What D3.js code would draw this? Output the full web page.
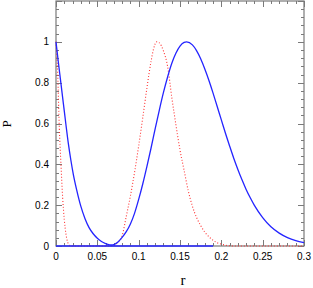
<!DOCTYPE html>
<html><head><meta charset="utf-8">
<script src="https://cdn.jsdelivr.net/npm/d3@7"></script>
<style>body{margin:0;background:#fff}svg{display:block}</style>
</head><body>
<script>
// Data (smoothed by eye)
const blueR = [0,0.003,0.006,0.009,0.012,0.015,0.018,0.021,0.025,0.03,0.035,0.04,0.045,0.05,0.055,0.06,0.065,0.068,0.07,0.075,0.08,0.085,0.09,0.095,0.1,0.105,0.11,0.115,0.12,0.125,0.13,0.135,0.14,0.145,0.15,0.155,0.158,0.165,0.17,0.175,0.18,0.185,0.19,0.195,0.2,0.205,0.21,0.215,0.22,0.225,0.23,0.235,0.24,0.25,0.26,0.27,0.28,0.29,0.3];
const blueP = [1,0.895,0.795,0.695,0.595,0.50,0.42,0.35,0.275,0.195,0.135,0.09,0.06,0.038,0.022,0.012,0.006,0.005,0.007,0.02,0.042,0.07,0.108,0.16,0.228,0.305,0.39,0.48,0.575,0.666,0.752,0.828,0.894,0.944,0.979,0.997,1,0.985,0.957,0.917,0.867,0.811,0.749,0.683,0.618,0.552,0.49,0.43,0.375,0.324,0.277,0.236,0.199,0.139,0.094,0.063,0.041,0.026,0.016];
const redR = [0,0.002,0.004,0.006,0.008,0.010,0.012,0.014,0.016,0.018,0.04,0.065,0.07,0.075,0.08,0.085,0.09,0.095,0.1,0.105,0.11,0.115,0.118,0.1218,0.125,0.13,0.135,0.14,0.145,0.15,0.155,0.16,0.165,0.17,0.175,0.18,0.185,0.19,0.195,0.2,0.205,0.21,0.22,0.26,0.3];
const redP = [1,0.85,0.58,0.40,0.24,0.13,0.06,0.02,0.004,0,0,0,0.004,0.018,0.05,0.145,0.245,0.36,0.49,0.63,0.775,0.905,0.965,1,0.995,0.955,0.88,0.73,0.595,0.47,0.37,0.27,0.195,0.14,0.10,0.068,0.045,0.028,0.016,0.009,0.004,0.001,0,0,0];
const baseR = [0,0.19];
const baseP = [0,0];
const xMajor = [0,0.05,0.1,0.15,0.2,0.25,0.3];
const xLabels = ["0","0.05","0.1","0.15","0.2","0.25","0.3"];
const yMajor = [0,0.2,0.4,0.6,0.8,1];
const yLabels = ["0","0.2","0.4","0.6","0.8","1"];

const W=313,H=288, m={l:56,r:9,t:1,b:42};
const svg=d3.select("body").append("svg").attr("width",W).attr("height",H);
const x=d3.scaleLinear().domain([0,0.3]).range([m.l,W-m.r]);
const y=d3.scaleLinear().domain([0,1.2]).range([H-m.b,m.t]);
const axisCol="#7a7a7a";

// ticks (inward, all four sides)
const xMinor=d3.range(0,0.3001,0.01), yMinor=d3.range(0,1.2001,0.04);
const isMajX=v=>Math.abs(v/0.05-Math.round(v/0.05))<1e-6;
const isMajY=v=>Math.abs(v/0.2-Math.round(v/0.2))<1e-6;
const tg=svg.append("g").attr("stroke",axisCol).attr("stroke-width",1);
xMinor.forEach(v=>{const L=isMajX(v)?6:3, px=Math.round(x(v))+0.5;
  tg.append("line").attr("x1",px).attr("x2",px).attr("y1",y(0)).attr("y2",y(0)-L);
  tg.append("line").attr("x1",px).attr("x2",px).attr("y1",y(1.2)).attr("y2",y(1.2)+L);});
yMinor.forEach(v=>{const L=isMajY(v)?6:3, py=Math.round(y(v))+0.5;
  tg.append("line").attr("y1",py).attr("y2",py).attr("x1",x(0)).attr("x2",x(0)+L);
  tg.append("line").attr("y1",py).attr("y2",py).attr("x1",x(0.3)).attr("x2",x(0.3)-L);});

const line=d3.line().x(d=>x(d[0])).y(d=>y(d[1])).curve(d3.curveMonotoneX);
const red=redR.map((r,i)=>[r,redP[i]]);
const blue=blueR.map((r,i)=>[r,blueP[i]]);
const base=baseR.map((r,i)=>[r,baseP[i]]);

// frame
svg.append("rect").attr("x",x(0)).attr("y",y(1.2)).attr("width",x(0.3)-x(0)).attr("height",y(0)-y(1.2))
  .attr("fill","none").attr("stroke",axisCol).attr("stroke-width",1.2);

svg.append("path").attr("d",line(red)).attr("fill","none").attr("stroke","#ff3030").attr("stroke-width",1.1).attr("stroke-dasharray","1,2");
svg.append("path").attr("d",line(base)).attr("fill","none").attr("stroke","#2424ff").attr("stroke-width",1.3);
svg.append("path").attr("d",line(blue)).attr("fill","none").attr("stroke","#2424ff").attr("stroke-width",1.3);

// tick labels
const font="Liberation Sans, Arial, sans-serif";
svg.append("g").selectAll("text").data(xMajor).join("text")
  .attr("x",d=>x(d)).attr("y",y(0)+14).attr("text-anchor","middle")
  .attr("font-family",font).attr("font-size",10).attr("fill","#000")
  .text((d,i)=>xLabels[i]);
svg.append("g").selectAll("text").data(yMajor).join("text")
  .attr("x",x(0)-7).attr("y",d=>y(d)+3.5).attr("text-anchor","end")
  .attr("font-family",font).attr("font-size",10).attr("fill","#000")
  .text((d,i)=>yLabels[i]);

// axis titles
svg.append("text").attr("x",(x(0)+x(0.3))/2+3).attr("y",285).attr("text-anchor","middle")
  .attr("font-family","Liberation Serif, Times New Roman, serif").attr("font-size",15).text("r");
svg.append("text").attr("transform","translate(11,124) rotate(-90)").attr("text-anchor","middle")
  .attr("font-family","Liberation Serif, Times New Roman, serif").attr("font-size",13).text("P");
</script>
</body></html>
